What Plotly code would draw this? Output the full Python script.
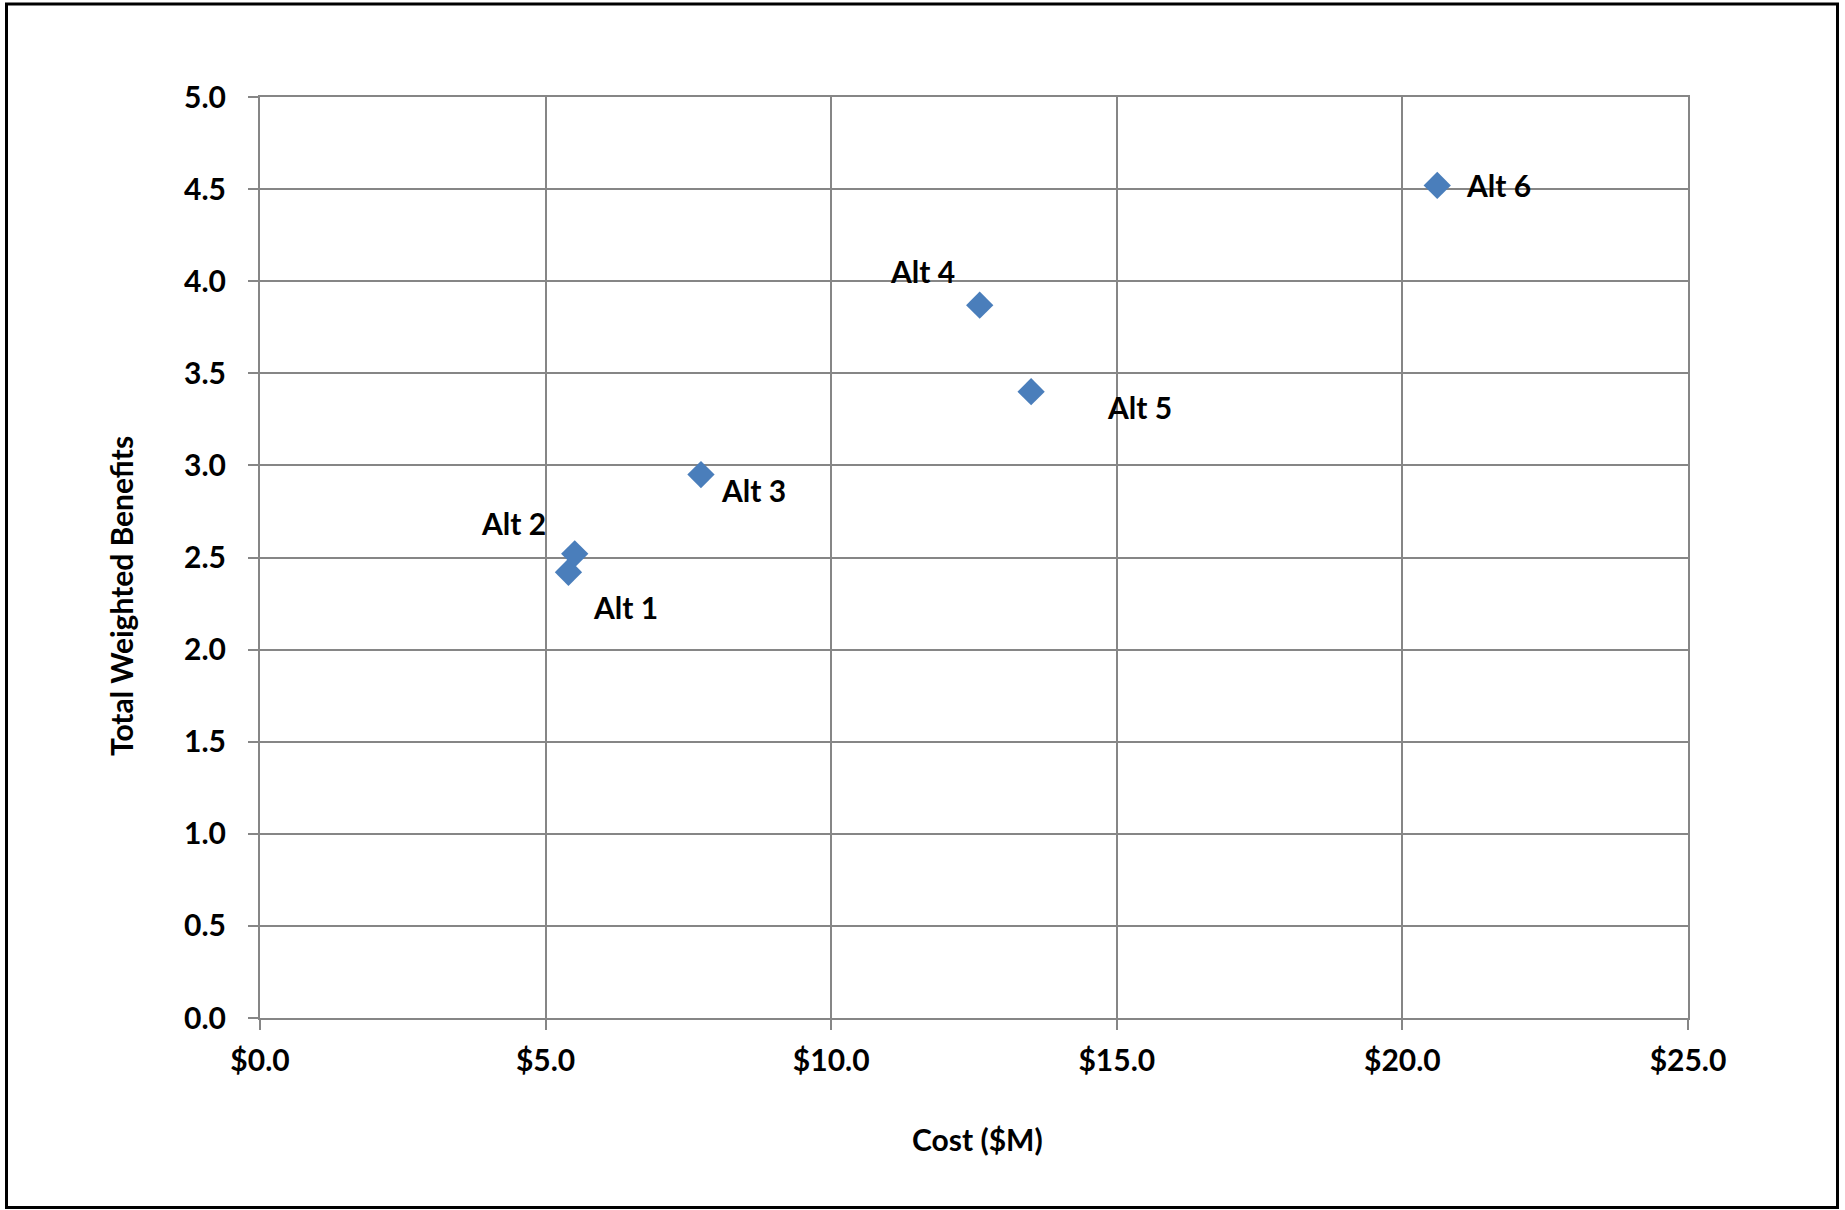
import plotly.graph_objects as go

# ---- data ----
labels = ["Alt 1", "Alt 2", "Alt 3", "Alt 4", "Alt 5", "Alt 6"]
cost = [5.40, 5.51, 7.72, 12.60, 13.50, 20.61]
benefits = [2.42, 2.52, 2.95, 3.87, 3.40, 4.52]
x_ticks = [0, 5, 10, 15, 20, 25]
y_ticks = [0, 0.5, 1.0, 1.5, 2.0, 2.5, 3.0, 3.5, 4.0, 4.5, 5.0]
x_title = "Cost ($M)"
y_title = "Total Weighted Benefits"

# ---- styling ----
label_offsets = [(57, -35), (-61, 31), (53, -15), (-57, 34), (108, -15), (61, 0)]
FONT = "Lato"
FS = 30
GRID = "#868686"
MARKER = "#4A7EBB"
W, H = 1845, 1210
L, R, T, B = 260, 157, 97, 192

fig = go.Figure()
fig.add_trace(go.Scatter(
    x=cost, y=benefits, mode="markers",
    marker=dict(symbol="diamond", size=21, color=MARKER, line=dict(width=0)),
    hoverinfo="skip", showlegend=False,
))

for lab, xv, yv, (dx, dy) in zip(labels, cost, benefits, label_offsets):
    fig.add_annotation(x=xv, y=yv, text=lab, showarrow=False,
                       xshift=dx, yshift=dy,
                       font=dict(family=FONT, size=FS, color="#000000", weight="bold"))

axis_common = dict(
    showgrid=True, gridcolor=GRID, gridwidth=2,
    showline=True, linecolor=GRID, linewidth=2, mirror=True,
    ticks="outside", ticklen=10, tickwidth=2, tickcolor=GRID,
    zeroline=False,
    tickfont=dict(family=FONT, size=FS, color="#000000", weight="bold"),
)

fig.update_xaxes(range=[0, 25], tickvals=x_ticks,
                 ticktext=["$%.1f" % v for v in x_ticks],
                 ticklabelstandoff=5, **axis_common)
fig.update_yaxes(range=[0, 5], tickvals=y_ticks,
                 ticktext=["%.1f" % v for v in y_ticks],
                 ticklabelstandoff=16, **axis_common)

pw = W - L - R
ph = H - T - B
def px(xp):
    return (xp - L) / pw
def py(yp):
    return (H - B - yp) / ph

# axis titles
fig.add_annotation(xref="paper", yref="paper", x=px(977), y=py(1139),
                   xanchor="center", yanchor="middle",
                   text=x_title, showarrow=False,
                   font=dict(family=FONT, size=FS, color="#000000", weight="bold"))
fig.add_annotation(xref="paper", yref="paper", x=px(121), y=py(596),
                   xanchor="center", yanchor="middle",
                   text=y_title, showarrow=False, textangle=-90,
                   font=dict(family=FONT, size=FS, color="#000000", weight="bold"))

# outer chart border
fig.add_shape(type="rect", xref="paper", yref="paper",
              x0=px(6.5), x1=px(1837.5), y0=py(1207.5), y1=py(4),
              line=dict(color="#000000", width=3), fillcolor="rgba(0,0,0,0)",
              layer="above")

fig.update_layout(
    width=W, height=H,
    margin=dict(l=L, r=R, t=T, b=B),
    paper_bgcolor="#FFFFFF", plot_bgcolor="#FFFFFF",
    showlegend=False,
)

fig.write_html(
    "out.html",
    config={"displayModeBar": False},
    post_script="document.documentElement.style.margin='0';document.body.style.margin='0';"
                "document.body.style.padding='0';document.body.style.overflow='hidden';",
)
